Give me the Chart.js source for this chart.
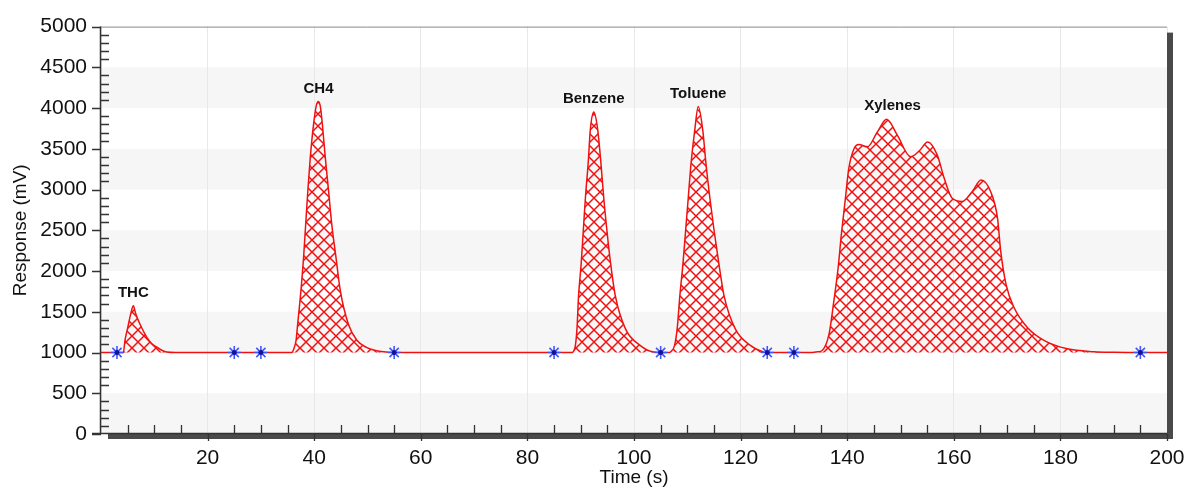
<!DOCTYPE html>
<html>
<head>
<meta charset="utf-8">
<script src="https://cdn.jsdelivr.net/npm/chart.js@4.4.0/dist/chart.umd.min.js"></script>
<style>
  body{margin:0;background:#fff;}
</style>
</head>
<body>
<canvas id="chart" width="1187" height="487"></canvas>
<script>

/* DATA */

const times = [
  0, 3,
  4.2, 4.5, 5.0, 5.6, 6.07, 6.5, 7.3, 8.6, 9.5, 10.5, 11.5, 12.3, 14,
  25, 30, 35.8,
  36.2, 36.6, 36.9, 37.5, 38.0, 38.4, 38.8, 39.25, 39.86, 40.4, 40.8, 41.2, 41.6, 42.1, 42.7, 43.3, 44.1, 44.9, 46.4, 48, 49.9, 51.5, 53, 55,
  70, 85, 88.4,
  88.7, 89.0, 89.3, 89.6, 90.1, 90.5, 90.9, 91.4, 91.8, 92.45, 93.2, 93.8, 94.3, 94.9, 95.6, 96.5, 98.4, 101.2, 103.7,
  105, 106.6,
  106.9, 107.6, 108.1, 108.6, 109.2, 109.7, 110.2, 110.7, 111.4, 112.05, 112.9, 113.5, 114.2, 115.0, 115.9, 116.9, 119.0, 121.9, 124.4,
  125, 130, 133,
  134.5, 135.3, 136.6, 137.5, 138.3, 138.9, 139.6, 140.3, 141.3, 142.2, 143.8, 145.6, 147.4, 149.4, 151.9,
  153.6, 155.1, 156.9, 158.2, 159.7, 161.6, 163.5, 165.1, 166.9, 168.2, 168.8, 169.8, 171.3, 173.8,
  177.0, 181.3, 186.3, 190, 195, 200
];

const response = [
  1000, 1000,
  1000, 1150, 1300, 1480, 1573, 1480, 1350, 1187, 1110, 1065, 1025, 1006, 1000,
  1000, 1000, 1000,
  1050, 1150, 1350, 1750, 2160, 2570, 2980, 3380, 3790, 4030, 4080, 4000, 3750, 3380, 2980, 2570, 2160, 1760, 1350, 1150, 1060, 1025, 1008, 1000,
  1000, 1000, 1000,
  1020, 1085, 1290, 1695, 2100, 2510, 2915, 3320, 3730, 3951, 3730, 3320, 2915, 2510, 2100, 1695, 1290, 1085, 1005,
  1000, 1000,
  1010, 1085, 1290, 1695, 2100, 2510, 2915, 3320, 3730, 4020, 3730, 3320, 2915, 2510, 2100, 1695, 1290, 1085, 1005,
  1000, 1000, 1000,
  1010, 1025, 1228, 1634, 2040, 2447, 2854, 3260, 3504, 3553, 3524, 3700, 3862, 3667, 3402,
  3480, 3585, 3423, 3138, 2894, 2854, 2980, 3118, 2976, 2650, 2244, 1837, 1552, 1308,
  1146, 1045, 1010, 1003, 1000, 1000
];

const baseline = 1000;

const markerTimes = [3, 25, 30, 55, 85, 105, 125, 130, 195];

const peakNames = ["THC", "CH4", "Benzene", "Toluene", "Xylenes"];
const peakTimes = [6.07, 40.8, 92.45, 112.05, 148.5];

/* HATCH */

function makeHatch(){
    const c = document.createElement("canvas");
    c.width = 12;
    c.height = 12;
    const g = c.getContext("2d");
    g.strokeStyle = "#f01010";
    g.lineWidth = 1.5;
    g.beginPath();
    g.moveTo(-2,-2); g.lineTo(14,14);
    g.moveTo(14,-2); g.lineTo(-2,14);
    g.stroke();
    return g.createPattern(c,"repeat");
}

/* DECORATION PLUGIN */

const decor = {

    id:"decor",

    beforeDraw(chart){
        const {ctx, chartArea:a, scales:{y}} = chart;
        ctx.save();
        ctx.fillStyle = "#fff";
        ctx.fillRect(0,0,chart.width,chart.height);
        // alternating bands
        ctx.fillStyle = "#f6f6f6";
        for(let v=0; v<5000; v+=1000){
            const y1 = y.getPixelForValue(v);
            const y2 = y.getPixelForValue(v+500);
            ctx.fillRect(a.left, y2, a.right-a.left, y1-y2);
        }
        ctx.restore();
    },

    afterDatasetsDraw(chart){
        const {ctx, scales:{x,y}} = chart;
        ctx.save();
        ctx.fillStyle = "#111";
        ctx.font = "bold 15px Arial, 'Liberation Sans', sans-serif";
        ctx.textAlign = "center";
        ctx.textBaseline = "middle";
        peakNames.forEach((name,i)=>{
            let top = 0;
            times.forEach((t,k)=>{
                if(Math.abs(t-peakTimes[i]) < 3 && response[k] > top) top = response[k];
            });
            ctx.fillText(name, x.getPixelForValue(peakTimes[i]), y.getPixelForValue(top) - 13);
        });
        ctx.restore();
    },

    afterDraw(chart){
        const {ctx, chartArea:a, scales:{x,y}} = chart;
        ctx.save();

        // shadow frame
        ctx.fillStyle = "#4a4a4a";
        ctx.fillRect(a.right, a.top+6, 6, a.bottom-a.top-1);
        ctx.fillRect(a.left+7, a.bottom, a.right-a.left-1, 5);

        ctx.strokeStyle = "#888";
        ctx.lineWidth = 1;
        ctx.beginPath();
        ctx.moveTo(a.left, a.top+0.5);
        ctx.lineTo(a.right, a.top+0.5);
        ctx.stroke();

        ctx.strokeStyle = "#333";
        ctx.lineWidth = 1.5;
        ctx.beginPath();
        ctx.moveTo(a.left-0.5, a.top);
        ctx.lineTo(a.left-0.5, a.bottom);
        ctx.moveTo(a.left-9, a.bottom-0.5);
        ctx.lineTo(a.right, a.bottom-0.5);
        ctx.stroke();

        // ticks
        ctx.lineWidth = 1.3;
        ctx.beginPath();
        for(let v=0; v<=5000; v+=100){
            const py = Math.round(y.getPixelForValue(v)) + 0.5;
            if(v % 500 === 0){
                ctx.moveTo(a.left-9, py); ctx.lineTo(a.left, py);
            }else{
                ctx.moveTo(a.left, py); ctx.lineTo(a.left+8, py);
            }
        }
        for(let v=5; v<=200; v+=5){
            const px = Math.round(x.getPixelForValue(v)) + 0.5;
            if(v % 20 === 0){
                ctx.moveTo(px, a.bottom); ctx.lineTo(px, a.bottom+7);
            }else{
                ctx.moveTo(px, a.bottom-9); ctx.lineTo(px, a.bottom);
            }
        }
        ctx.stroke();
        ctx.restore();
    }

};

/* CHART */

new Chart(document.getElementById("chart"),{

    type:"line",

    data:{
        datasets:[
            {
                data: times.map((t,i)=>({x:t, y:response[i]})),
                borderColor:"#f01010",
                borderWidth:1.5,
                backgroundColor: makeHatch(),
                fill:{value:baseline},
                pointRadius:0,
                cubicInterpolationMode:"monotone",
                order:2
            },
            {
                data: markerTimes.map(t=>({x:t, y:baseline})),
                showLine:false,
                pointStyle:"star",
                pointRadius:6.5,
                borderColor:"#4257ff",
                backgroundColor:"#4257ff",
                pointBorderWidth:1.6,
                order:1
            },
            {
                data: markerTimes.map(t=>({x:t, y:baseline})),
                showLine:false,
                pointStyle:"circle",
                pointRadius:2,
                borderColor:"#14148c",
                backgroundColor:"#14148c",
                order:0
            }
        ]
    },

    options:{
        responsive:false,
        devicePixelRatio:1,
        animation:false,
        layout:{ padding:{ top:24, right:20, left:0, bottom:0 } },
        plugins:{ legend:{display:false}, tooltip:{enabled:false} },
        scales:{
            x:{
                type:"linear",
                min:0,
                max:200,
                ticks:{
                    stepSize:20,
                    color:"#111",
                    font:{ size:21, family:"Arial, 'Liberation Sans', sans-serif" },
                    padding:12,
                    maxRotation:0,
                    callback:v => v === 0 ? "" : String(v)
                },
                grid:{ color:"#e8e8e8", drawTicks:false },
                border:{ display:false },
                title:{
                    display:true,
                    text:"Time (s)",
                    color:"#111",
                    font:{ size:19, family:"Arial, 'Liberation Sans', sans-serif" },
                    padding:{ top:0, bottom:-2 }
                },
                afterFit: s => { s.height = 53; s.paddingLeft = 0; s.paddingRight = 0; }
            },
            y:{
                min:0,
                max:5000,
                ticks:{
                    stepSize:500,
                    color:"#111",
                    font:{ size:21, family:"Arial, 'Liberation Sans', sans-serif" },
                    padding:14,
                    callback:v => String(v)
                },
                grid:{ display:false, drawTicks:false },
                border:{ display:false },
                title:{
                    display:true,
                    text:"Response (mV)",
                    color:"#111",
                    font:{ size:19, family:"Arial, 'Liberation Sans', sans-serif" },
                    padding:{ top:9, bottom:0 }
                },
                afterFit: s => { s.width = 101; }
            }
        }
    },

    plugins:[decor]

});

</script>
</body>
</html>
